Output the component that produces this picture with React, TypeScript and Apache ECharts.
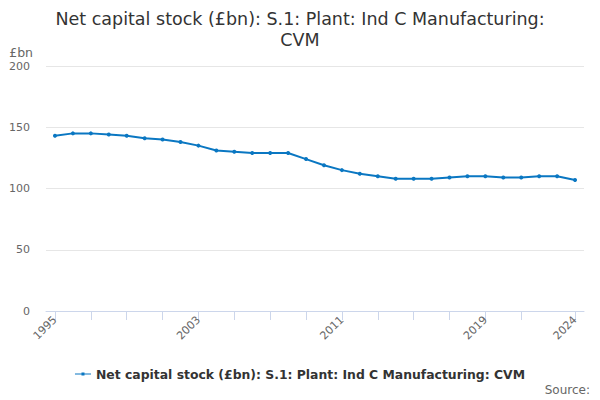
import React, { useEffect, useRef } from "react";
import * as echarts from "echarts";

const years = [
  1995, 1996, 1997, 1998, 1999, 2000, 2001, 2002, 2003, 2004,
  2005, 2006, 2007, 2008, 2009, 2010, 2011, 2012, 2013, 2014,
  2015, 2016, 2017, 2018, 2019, 2020, 2021, 2022, 2023, 2024,
];
const values = [
  143, 145, 145, 144, 143, 141, 140, 138, 135, 131,
  130, 129, 129, 129, 124, 119, 115, 112, 110, 108,
  108, 108, 109, 110, 110, 109, 109, 110, 110, 107,
];
const tickYears = [1995, 1997, 1999, 2001, 2003, 2005, 2007, 2009, 2011, 2013, 2015, 2017, 2019, 2021, 2024];
const labelYears = [1995, 2003, 2011, 2019, 2024];
const yTicks = [0, 50, 100, 150, 200];

const seriesName = "Net capital stock (£bn): S.1: Plant: Ind C Manufacturing: CVM";
const titleText = "Net capital stock (£bn): S.1: Plant: Ind C Manufacturing:\nCVM";

const FONT = "DejaVu Sans";
const COLOR = "#0a77c2";

export default function App() {
  const ref = useRef<HTMLDivElement>(null);
  useEffect(() => {
    if (!ref.current) return;
    const chart = echarts.init(ref.current, undefined, { renderer: "svg" });
    chart.setOption({
      animation: false,
      textStyle: { fontFamily: FONT },
      title: {
        text: titleText,
        left: "center",
        top: 3,
        textStyle: { fontFamily: FONT, fontSize: 17.5, fontWeight: "normal", color: "#333333", lineHeight: 21 },
      },
      grid: { left: 46, right: 16, top: 66, bottom: 89, containLabel: false },
      xAxis: {
        type: "value",
        min: 1994.5,
        max: 2024.5,
        splitLine: { show: false },
        axisLine: { show: true, lineStyle: { color: "#ccd6eb" } },
        axisTick: { show: true, length: 9, lineStyle: { color: "#ccd6eb" }, customValues: tickYears },
        axisLabel: {
          customValues: labelYears,
          rotate: 45,
          margin: 7,
          fontSize: 11,
          color: "#666666",
          fontFamily: FONT,
          formatter: (v: number) => String(v),
        },
      },
      yAxis: {
        type: "value",
        min: 0,
        max: 200,
        interval: 50,
        axisLine: { show: false },
        axisTick: { show: false },
        splitLine: { lineStyle: { color: "#e6e6e6" } },
        axisLabel: { margin: 16, fontSize: 11, color: "#666666", fontFamily: FONT, customValues: yTicks },
      },
      legend: {
        bottom: 15,
        left: "center",
        itemWidth: 16,
        itemHeight: 4,
        itemGap: 10,
        data: [{ name: seriesName, icon: "path://M0,1.5 H16 V2.5 H0 Z M6.5,0.5 H9.5 V3.5 H6.5 Z" }],
        textStyle: { fontFamily: FONT, fontSize: 12.4, fontWeight: "bold", color: "#333333" },
      },
      graphic: [
        {
          type: "text",
          x: 33,
          y: 52,
          style: { text: "£bn", fontFamily: FONT, fontSize: 12.5, fill: "#666666", align: "right", verticalAlign: "middle" },
        },
        {
          type: "text",
          x: 590,
          y: 390,
          style: { text: "Source:", fontFamily: FONT, fontSize: 12, fill: "#666666", align: "right", verticalAlign: "middle" },
        },
      ],
      series: [
        {
          name: seriesName,
          type: "line",
          data: years.map((y, i) => [y, values[i]]),
          symbol: "circle",
          symbolSize: 4,
          showSymbol: true,
          itemStyle: { color: COLOR },
          lineStyle: { color: COLOR, width: 2 },
        },
      ],
    });
    return () => chart.dispose();
  }, []);
  return <div ref={ref} style={{ width: 600, height: 400, position: "absolute", left: 0, top: 0 }} />;
}
